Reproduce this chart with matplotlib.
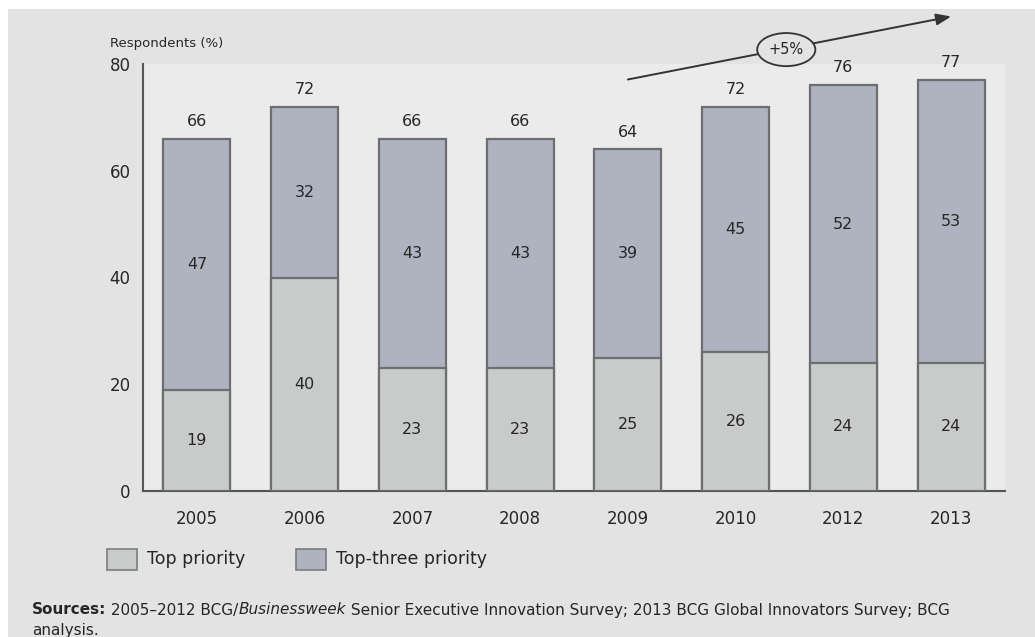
import matplotlib
matplotlib.use('Agg')
import matplotlib.pyplot as plt
from matplotlib.patches import Rectangle, Ellipse
import numpy as np

# Survey results
years = ['2005', '2006', '2007', '2008', '2009', '2010', '2012', '2013']
top_priority = [19, 40, 23, 23, 25, 26, 24, 24]
top_three = [47, 32, 43, 43, 39, 45, 52, 53]
totals = [66, 72, 66, 66, 64, 72, 76, 77]
yticks = [0, 20, 40, 60, 80]

W, H = 1035, 637
page_bg = '#e3e3e3'
plot_bg = '#ebebeb'
c_top = '#c9caca'
c_three = '#aeb3bf'
c_edge = '#6c6e72'
c_text = '#262626'

fig = plt.figure(figsize=(W / 100, H / 100), dpi=100, facecolor='white')
fig.add_artist(Rectangle((8 / W, 0), 1, (H - 9) / H, transform=fig.transFigure,
                         facecolor=page_bg, edgecolor='none', zorder=-1))

ax = fig.add_axes([143 / W, (H - 491) / H, (1005 - 143) / W, 427 / H])
ax.set_facecolor(plot_bg)

x = np.arange(len(years))
bw = 0.62
ax.bar(x, totals, bw, color=c_three, edgecolor=c_edge, linewidth=1.6, zorder=2)
ax.bar(x, top_priority, bw, color=c_top, edgecolor=c_edge, linewidth=1.6, zorder=3)

for i in range(len(years)):
    ax.text(x[i], top_priority[i] / 2, str(top_priority[i]), ha='center', va='center',
            fontsize=11.5, color=c_text, zorder=4)
    ax.text(x[i], (top_priority[i] + totals[i]) / 2, str(top_three[i]), ha='center',
            va='center', fontsize=11.5, color=c_text, zorder=4)
    ax.annotate(str(totals[i]), (x[i], totals[i]), xytext=(0, 12.5),
                textcoords='offset points', ha='center', va='center',
                fontsize=11.5, color=c_text, annotation_clip=False)

ax.set_xlim(-0.5, 7.5)
ax.set_ylim(0, 80)
ax.set_xticks(x)
ax.set_xticklabels(years)
ax.set_yticks(yticks)
ax.tick_params(axis='both', length=0, labelsize=12, colors=c_text)
ax.tick_params(axis='y', pad=9)
ax.tick_params(axis='x', pad=14)
for s in ['top', 'right']:
    ax.spines[s].set_visible(False)
for s in ['left', 'bottom']:
    ax.spines[s].set_color('#555555')
    ax.spines[s].set_linewidth(1.5)

fig.text(110 / W, 1 - 43 / H, 'Respondents (%)', fontsize=9.5, color=c_text,
         ha='left', va='center')

# growth arrow with callout
ax.annotate('', xy=(7.0, 88.9), xytext=(4.0, 77.1),
            arrowprops=dict(arrowstyle='-|>,head_length=0.9,head_width=0.35',
                            color='#333333', lw=1.4, shrinkA=0, shrinkB=0),
            annotation_clip=False, zorder=5)
ax.add_patch(Ellipse((5.47, 82.7), 0.54, 6.2, facecolor=page_bg, edgecolor='#333333',
                     lw=1.3, clip_on=False, zorder=6))
ax.text(5.47, 82.7, '+5%', ha='center', va='center', fontsize=10.5, color=c_text,
        zorder=7, clip_on=False)

# legend
for px, label, col in [(107, 'Top priority', c_top), (296, 'Top-three priority', c_three)]:
    fig.add_artist(Rectangle((px / W, 1 - 570 / H), 30 / W, 21 / H,
                             transform=fig.transFigure, facecolor=col,
                             edgecolor='#7a7c80', lw=1.2))
    fig.text((px + 40) / W, 1 - 559 / H, label, fontsize=12.5, color=c_text,
             ha='left', va='center')

# source note, pieces chained one after another
fs = 11
prev = fig.text(32 / W, 1 - 610 / H, 'Sources:', fontsize=fs, fontweight='bold',
                color=c_text, ha='left', va='center')
pieces = [(' 2005–2012 BCG/', 'normal'), ('Businessweek', 'italic'),
          (' Senior Executive Innovation Survey; 2013 BCG Global Innovators Survey; BCG',
           'normal')]
for txt, style in pieces:
    prev = ax.annotate(txt, xy=(1, 0), xycoords=prev, va='bottom', ha='left',
                       fontsize=fs, fontstyle=style, color=c_text,
                       annotation_clip=False)
fig.text(32 / W, 1 - 631 / H, 'analysis.', fontsize=fs, color=c_text,
         ha='left', va='center')

fig.savefig('out.png', dpi=100, facecolor=fig.get_facecolor())
